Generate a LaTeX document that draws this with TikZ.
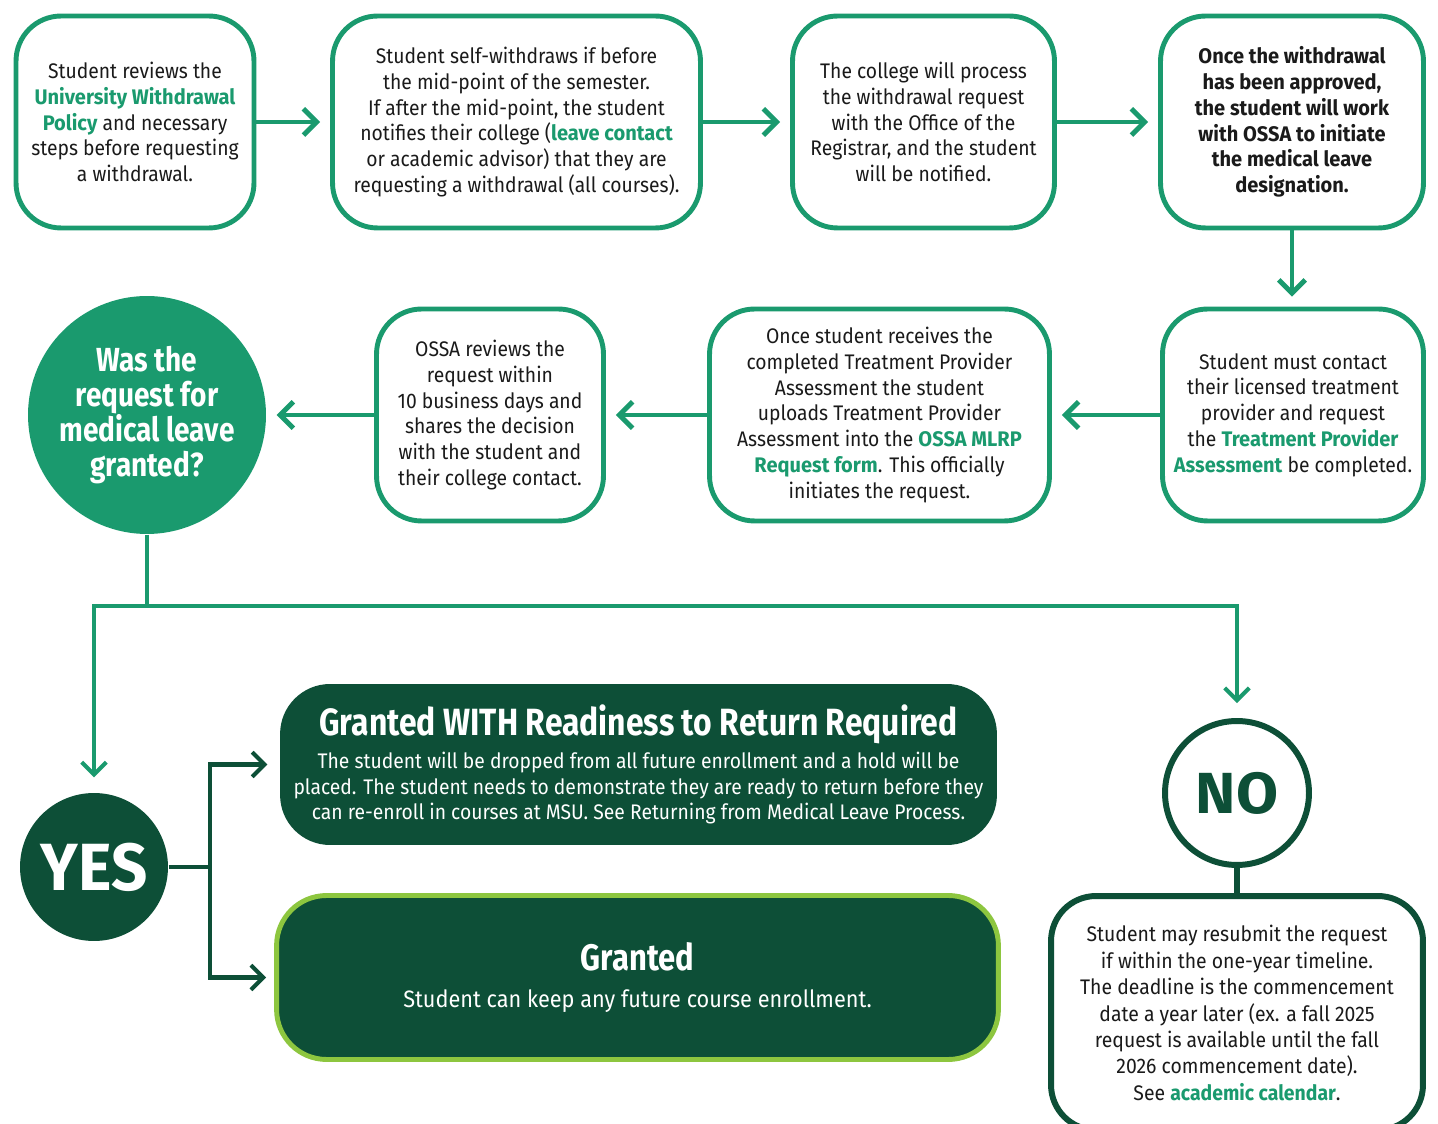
\documentclass[tikz,border=0pt]{standalone}
\usepackage{fontspec}
\setmainfont[FakeStretch=0.915, BoldFeatures={FakeStretch=0.95}]{Fira Sans}
\newfontfamily\headfont[FakeStretch=0.84]{Fira Sans}
\newfontfamily\roundfont[FakeStretch=0.92]{Fira Sans}
\newfontfamily\nofont[FakeStretch=1.05]{Fira Sans}
\usetikzlibrary{arrows.meta}

\definecolor{msugreen}{HTML}{1A9A6E}
\definecolor{msudark}{HTML}{0D4F37}
\definecolor{msulime}{HTML}{8DC63F}
\definecolor{inkblack}{HTML}{1A1A1A}

\newcommand{\bodysize}{\fontsize{12pt}{14.7pt}\selectfont}
\newcommand{\lnk}[1]{\textbf{\textcolor{msugreen}{#1}}}

\begin{document}
\begin{tikzpicture}[
    x=0.02cm,
    y=-0.02cm,
    thick
]

% =========================
% Styles
% =========================
\tikzstyle{stepbox} = [
    rectangle, draw=msugreen,
    line width=2.8pt,
    fill=white,
    text=inkblack,
    align=center,
    rounded corners=0.9cm,
    minimum height=4.24cm,
    font=\bodysize
]

\tikzstyle{outcome} = [
    rectangle,
    fill=msudark,
    text=white,
    align=center,
    rounded corners=1.0cm,
    font=\bodysize
]

\tikzstyle{line} = [draw=msugreen, line width=2.8pt,
    -{Straight Barb[length=7.5pt,width=15pt]}, shorten >=0.2cm]
\tikzstyle{branch} = [draw=msugreen, line width=2.3pt]
\tikzstyle{darkline} = [draw=msudark, line width=2.3pt]

\useasboundingbox (0,0) rectangle (1438,1124);

% =========================
% Nodes (FIXED POSITIONS)
% =========================
\node[stepbox, minimum width=4.76cm] (review) at (135,122)
    {Student reviews the\\\lnk{University Withdrawal}\\\lnk{Policy} and necessary\\steps before requesting\\a withdrawal.};

\node[stepbox, minimum width=7.36cm] (selfwd) at (516.5,122)
    {Student self-withdraws if before\\the mid-point of the semester.\\If after the mid-point, the student\\notifies their college (\lnk{leave contact}\\or academic advisor) that they are\\requesting a withdrawal (all courses).};

\node[stepbox, minimum width=5.24cm] (process) at (923.5,122)
    {The college will process\\the withdrawal request\\with the Office of the\\Registrar, and the student\\will be notified.};

\node[stepbox, minimum width=5.26cm, font=\bodysize\bfseries] (approved) at (1292,122)
    {Once the withdrawal\\has been approved,\\the student will work\\with OSSA to initiate\\the medical leave\\designation.};

\node[stepbox, minimum width=5.22cm] (contact) at (1293,415)
    {Student must contact\\their licensed treatment\\provider and request\\the \lnk{Treatment Provider}\\\lnk{Assessment} be completed.};

\node[stepbox, minimum width=6.8cm] (upload) at (879.5,415)
    {Once student receives the\\completed Treatment Provider\\Assessment the student\\uploads Treatment Provider\\Assessment into the \lnk{OSSA MLRP}\\\lnk{Request form}. This officially\\initiates the request.};

\node[stepbox, minimum width=4.54cm] (ossa) at (490,415)
    {OSSA reviews the\\request within\\10 business days and\\shares the decision\\with the student and\\their college contact.};

\node[circle, fill=msugreen, minimum size=4.76cm, inner sep=0pt,
    text=white, align=center,
    font=\headfont\fontsize{19pt}{19.8pt}\selectfont\bfseries] (decide) at (147,415)
    {Was the\\request for\\medical leave\\granted?};

\node[circle, fill=msudark, minimum size=2.96cm, inner sep=0pt,
    text=white, font=\fontsize{38pt}{38pt}\selectfont\bfseries] (yes) at (94,867) {YES};

\node[circle, draw=msudark, line width=3.4pt, fill=white,
    minimum size=2.88cm, inner sep=0pt, text=msudark,
    font=\nofont\fontsize{33pt}{33pt}\selectfont\bfseries] (no) at (1237,793) {NO};

\node[outcome, minimum width=14.34cm, minimum height=3.22cm] (readiness) at (638.5,764.5)
    {{\headfont\fontsize{21.6pt}{26pt}\selectfont\bfseries Granted WITH Readiness to Return Required}\\[4pt]
     The student will be dropped from all future enrollment and a hold will be\\
     placed. The student needs to demonstrate they are ready to return before they\\
     can re-enroll in courses at MSU. See Returning from Medical Leave Process.};

\node[outcome, draw=msulime, line width=2.8pt, minimum width=14.44cm,
    minimum height=3.28cm, font=\fontsize{13.5pt}{16pt}\selectfont] (grantedbox) at (637.5,977.5)
    {{\headfont\fontsize{21pt}{24pt}\selectfont\bfseries Granted}\\[5pt]
     Student can keep any future course enrollment.};

\node[stepbox, draw=msudark, line width=3.4pt, minimum width=7.44cm,
    minimum height=4.68cm, font=\roundfont\fontsize{12pt}{15pt}\selectfont] (resubmit) at (1237,1013)
    {Student may resubmit the request\\if within the one-year timeline.\\The deadline is the commencement\\date a year later (ex. a fall 2025\\request is available until the fall\\2026 commencement date).\\See \lnk{academic calendar}.};

% =========================
% Connections
% =========================
\path[line] (review.east) -- (selfwd.west);
\path[line] (selfwd.east) -- (process.west);
\path[line] (process.east) -- (approved.west);
\path[line] (approved.south) -- (approved.south |- contact.north);

\path[line] (contact.west) -- (upload.east);
\path[line] (upload.west) -- (ossa.east);
\path[line] (ossa.west) -- (decide.east);

\coordinate (split) at (147,606);
\draw[branch] (decide.south) -- (split);
\path[branch, -{Straight Barb[length=7pt,width=14pt]}, shorten >=0.3cm]
    (split) -| (yes.north);
\path[branch, -{Straight Barb[length=7pt,width=14pt]}, shorten >=0.3cm]
    (split) -| (no.north);

\coordinate (fork) at (210,867);
\draw[darkline] (yes.east) -- (fork);
\path[darkline, -{Straight Barb[length=7pt,width=14pt]}, shorten >=0.24cm]
    (fork) |- (readiness.west);
\path[darkline, -{Straight Barb[length=7pt,width=14pt]}, shorten >=0.16cm]
    (fork) |- (grantedbox.west);

\draw[darkline, line width=3.4pt] (no.south) -- (resubmit.north);

\end{tikzpicture}
\end{document}
